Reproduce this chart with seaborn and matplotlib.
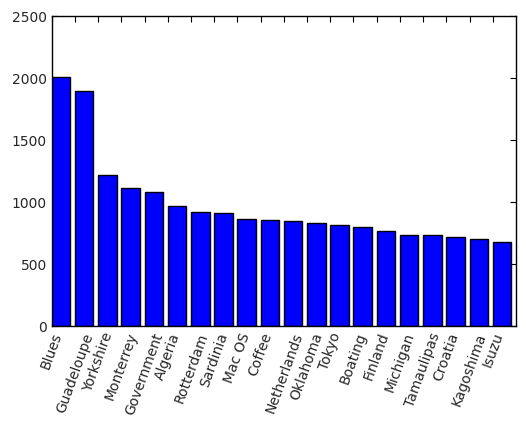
import numpy as np
import pandas as pd
import matplotlib
matplotlib.use("Agg")
import matplotlib.pyplot as plt
import seaborn as sns

# Data
categories = [
    "Blues", "Guadeloupe", "Yorkshire", "Monterrey", "Government",
    "Algeria", "Rotterdam", "Sardinia", "Mac OS", "Coffee",
    "Netherlands", "Oklahoma", "Tokyo", "Boating", "Finland",
    "Michigan", "Tamaulipas", "Croatia", "Kagoshima", "Isuzu",
]
counts = [
    2008, 1895, 1218, 1110, 1078,
    965, 917, 911, 863, 855,
    847, 833, 815, 801, 769,
    734, 734, 718, 702, 677,
]
y_ticks = [0, 500, 1000, 1500, 2000, 2500]

df = pd.DataFrame({"category": categories, "count": counts})

sns.set_style("white")
plt.rcParams["font.family"] = ["DejaVu Sans"]

fig = plt.figure(figsize=(5.26, 4.28), dpi=100)
ax = fig.add_axes([51.7 / 526, 102 / 428, (516 - 51.7) / 526, 310 / 428])

sns.barplot(data=df, x="category", y="count", color="#0000ff", saturation=1,
            edgecolor="black", linewidth=1, width=0.8, ax=ax)

n = len(categories)
# bars are edge aligned in the original: tick sits on the left edge of each bar
ax.set_xlim(-0.4, n - 0.4)
ax.set_xticks(np.arange(n) - 0.4)
ax.set_xticklabels(categories, rotation=70, ha="center", fontsize=10)
ax.set_ylim(0, 2500)
ax.set_yticks(y_ticks)
ax.set_yticklabels([str(v) for v in y_ticks], fontsize=10)
ax.set_xlabel("")
ax.set_ylabel("")

ax.tick_params(axis="both", direction="in", length=4, width=0.8,
               top=True, right=True, bottom=True, left=True, color="black")
for s in ax.spines.values():
    s.set_visible(True)
    s.set_color("black")
    s.set_linewidth(1)

fig.savefig("out.png", dpi=100, facecolor="white")
